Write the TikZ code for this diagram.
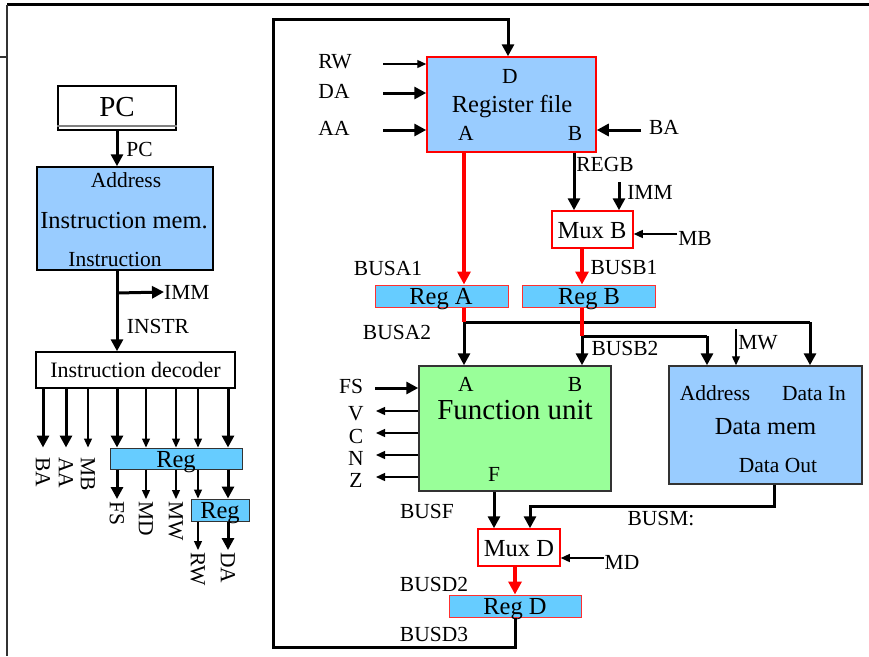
\documentclass[tikz,border=0pt]{standalone}
\usepackage{fontspec}
\setmainfont{Liberation Serif}
\usetikzlibrary{arrows.meta}
\definecolor{memblue}{HTML}{99CCFF}
\definecolor{regblue}{HTML}{66CCFF}
\definecolor{fugreen}{HTML}{99FF99}
\definecolor{regedge}{HTML}{FF3030}
\definecolor{gedge}{HTML}{333333}
\begin{document}
\begin{tikzpicture}[x=1pt,y=-1pt,
  lbl/.style={font=\fontsize{21.5}{24}\selectfont, inner sep=0pt, text depth=0pt},
  btxt/.style={font=\fontsize{24.5}{28}\selectfont, inner sep=0pt, text depth=0pt},
  htxt/.style={font=\fontsize{29}{32}\selectfont, inner sep=0pt, text depth=0pt},
  vlbl/.style={lbl, rotate=-90, anchor=west, inner sep=2pt},
  blk/.style={draw=gedge, inner sep=0pt, line width=1.5pt},
  redbox/.style={draw=red, inner sep=0pt, line width=1.5pt},
  regbox/.style={draw=regedge, fill=regblue, inner sep=0pt, line width=1pt},
  dregbox/.style={draw=gedge, fill=regblue, inner sep=0pt, line width=1pt},
  thk/.style={line width=3pt, -{Triangle[length=12pt,width=12pt]}},
  thkl/.style={line width=3pt},
  thn/.style={line width=1.3pt, -{Triangle[length=9pt,width=8pt]}},
  redarr/.style={line width=3.5pt, red, -{Triangle[length=13pt,width=13pt]}},
  redl/.style={line width=3.5pt, red},
  frame/.style={line width=2pt, black!80}
]
\useasboundingbox (0,0) rectangle (869,656);

% frame lines
\coordinate (fTL) at (7,4.5);
\coordinate (fTR) at (869,4.5);
\coordinate (fBL) at (7,656);
\coordinate (fS1) at (0,57);
\coordinate (fS2) at (7,57);
\draw[line width=3pt] (fTL) -- (fTR);
\draw[frame] (fTL) -- (fBL);
\draw[frame] (fS1) -- (fS2);

% ---------------- left part ----------------
\node[blk, draw=black, fill=white, minimum width=118pt, minimum height=44pt] (pcbox) at (117,108) {};
\draw[gray, line width=2pt] ([yshift=5pt]pcbox.south west) -- ([yshift=5pt]pcbox.south east);
\node[htxt] (tPC) at (117,107) {PC};

\node[blk, draw=black, fill=memblue, minimum width=176pt, minimum height=103pt] (imem) at (125,218.5) {};
\node[lbl] (tAddr1) at (126,180) {Address};
\node[btxt] (tImem) at (124,220) {Instruction mem.};
\node[lbl] (tInstr) at (115,259) {Instruction};

\node[lbl] (lPC) at (139.5,149) {PC};
\draw[thk] (pcbox.south) -- (pcbox.south |- imem.north);

\node[blk, draw=black, fill=white, minimum width=199pt, minimum height=36pt] (dec) at (135.5,370) {};
\node[lbl, font=\fontsize{22}{24}\selectfont] (tDec) at (135.5,370) {Instruction decoder};

\coordinate (ibus) at (117,293);
\node[lbl, anchor=west] (lIMM1) at (164,292) {IMM};
\node[lbl] (lINSTR) at (158,326) {INSTR};
\draw[thk] (imem.south -| ibus) -- (ibus |- dec.north);
\draw[thk] (ibus) -- (lIMM1.west);

\node[dregbox, minimum width=132pt, minimum height=21pt] (reg1) at (176,458.5) {};
\node[btxt] (tReg1) at (176,459) {Reg};
\node[dregbox, minimum width=58pt, minimum height=22pt] (reg2) at (220,510) {};
\node[btxt] (tReg2) at (220,510) {Reg};

\node[vlbl] (lBA) at (43,455) {BA};
\node[vlbl] (lAA) at (66,455) {AA};
\node[vlbl] (lMB) at (88,455) {MB};
\node[vlbl] (lFS) at (117,499) {FS};
\node[vlbl] (lMD) at (146,499) {MD};
\node[vlbl] (lMW) at (176,499) {MW};
\node[vlbl] (lRW) at (198,550) {RW};
\node[vlbl] (lDA) at (228,550) {DA};

\draw[thk] (dec.south -| lBA.west) -- (lBA.west |- reg1.north);
\draw[thk] (dec.south -| lAA.west) -- (lAA.west |- reg1.north);
\draw[thn] (dec.south -| lMB.west) -- (lMB.west |- reg1.north);
\draw[thk] (dec.south -| lFS.west) -- (lFS.west |- reg1.north);
\draw[thn] (dec.south -| lMD.west) -- (lMD.west |- reg1.north);
\draw[thn] (dec.south -| lMW.west) -- (lMW.west |- reg1.north);
\draw[thn] (dec.south -| lRW.west) -- (lRW.west |- reg1.north);
\draw[thk] (dec.south -| lDA.west) -- (lDA.west |- reg1.north);

\draw[thk] (reg1.south -| lFS.west) -- (lFS.west);
\draw[thn] (reg1.south -| lMD.west) -- (lMD.west);
\draw[thn] (reg1.south -| lMW.west) -- (lMW.west);
\draw[thn] (reg1.south -| lRW.west) -- (lRW.west |- reg2.north);
\draw[thk] (reg1.south -| lDA.west) -- (lDA.west |- reg2.north);
\draw[thn] (reg2.south -| lRW.west) -- (lRW.west);
\draw[thk] (reg2.south -| lDA.west) -- (lDA.west);

% ---------------- right part ----------------
\node[redbox, fill=memblue, minimum width=169pt, minimum height=95pt] (regfile) at (511.5,104.5) {};
\node[lbl] (tRFD) at (510,76) {D};
\node[btxt] (tRF) at (512,104) {Register file};
\node[lbl] (tRFA) at (466,133) {A};
\node[lbl] (tRFB) at (575,133) {B};

\node[redbox, fill=white, minimum width=81pt, minimum height=37pt] (muxb) at (592.5,229.5) {};
\node[btxt] (tMuxB) at (592,230) {Mux B};
\node[regbox, minimum width=133pt, minimum height=22pt] (rega) at (441.5,296) {};
\node[btxt] (tRegA) at (441,296) {Reg A};
\node[regbox, minimum width=133pt, minimum height=22pt] (regb) at (588.5,296) {};
\node[btxt] (tRegB) at (589,296) {Reg B};

\node[blk, fill=fugreen, minimum width=192pt, minimum height=125pt] (fu) at (515,428.5) {};
\node[lbl] (tFUA) at (466,384) {A};
\node[lbl] (tFUB) at (575,384) {B};
\node[htxt] (tFU) at (515,410) {Function unit};
\node[lbl] (tFUF) at (494,474) {F};

\node[blk, fill=memblue, minimum width=193pt, minimum height=118pt] (dmem) at (765.5,425) {};
\node[lbl] (tDAddr) at (715,393) {Address};
\node[lbl] (tDIn) at (814,393) {Data In};
\node[btxt] (tDmem) at (765.5,426) {Data mem};
\node[lbl] (tDOut) at (778,465) {Data Out};

\node[redbox, fill=white, minimum width=82pt, minimum height=37pt] (muxd) at (519,547.5) {};
\node[btxt] (tMuxD) at (519,548) {Mux D};
\node[regbox, minimum width=132pt, minimum height=22pt] (regd) at (515,606) {};
\node[btxt] (tRegD) at (515,606) {Reg D};

% labels
\node[lbl] (lRW2) at (335,61) {RW};
\node[lbl] (lDA2) at (334,91) {DA};
\node[lbl] (lAA2) at (334,128) {AA};
\node[lbl] (lBA2) at (664,127) {BA};
\node[lbl] (lREGB) at (605,164) {REGB};
\node[lbl] (lIMM2) at (650,192) {IMM};
\node[lbl] (lMB2) at (695,238) {MB};
\node[lbl] (lBUSA1) at (388,268) {BUSA1};
\node[lbl] (lBUSB1) at (624,267) {BUSB1};
\node[lbl] (lBUSA2) at (397,332) {BUSA2};
\node[lbl] (lBUSB2) at (625,348) {BUSB2};
\node[lbl] (lMW2) at (758,342) {MW};
\node[lbl] (lFS2) at (351,386) {FS};
\node[lbl] (lV) at (356,413) {V};
\node[lbl] (lC) at (356,436) {C};
\node[lbl] (lN) at (356,458) {N};
\node[lbl] (lZ) at (356,480) {Z};
\node[lbl] (lBUSF) at (427,511) {BUSF};
\node[lbl] (lBUSM) at (661,518) {BUSM:};
\node[lbl] (lMD2) at (622,562) {MD};
\node[lbl] (lBUSD2) at (434,584) {BUSD2};
\node[lbl] (lBUSD3) at (434,634) {BUSD3};

% coordinates
\coordinate (rwS) at (383,64);
\coordinate (daS) at (383,93);
\coordinate (aaS) at (383,130);
\coordinate (baS) at (641,130);
\coordinate (rfAx) at (464,152);
\coordinate (rfBx) at (574,152);
\coordinate (immS) at (619,182);
\coordinate (mbS) at (677,234);
\coordinate (busA) at (464,322);
\coordinate (busAR) at (810,322);
\coordinate (busB) at (582,336);
\coordinate (busBR) at (707,336);
\coordinate (mwS) at (736,329);
\coordinate (fsS) at (375,388);
\coordinate (vE) at (376,411);
\coordinate (cE) at (376,433);
\coordinate (nE) at (376,455);
\coordinate (zE) at (376,477);
\coordinate (doX) at (774,506);
\coordinate (busM) at (530,506);
\coordinate (mdS) at (604,558);
\coordinate (loopL) at (273,647);
\coordinate (loopT) at (273,19);
\coordinate (loopD) at (508,19);

% register file inputs
\draw[thn] (rwS) -- (rwS -| regfile.west);
\draw[thk] (daS) -- (daS -| regfile.west);
\draw[thk] (aaS) -- (aaS -| regfile.west);
\draw[thk] (baS) -- (baS -| regfile.east);

% feedback loop
\draw[thk] (regd.south) |- (loopL) -- (loopT) -- (loopD) -- (loopD |- regfile.north);

% B path
\draw[thk] (regfile.south -| rfBx) -- (rfBx |- muxb.north);
\draw[thk] (immS) -- (immS |- muxb.north);
\draw[thn] (mbS) -- (mbS -| muxb.east);

% buses to FU and data mem
\draw[thk] (busA) -- (busA |- fu.north);
\draw[thkl] (busA) -- (busAR);
\draw[thk] (busAR) -- (busAR |- dmem.north);
\draw[thkl] (busB) -- (busBR);
\draw[thk] (busBR) -- (busBR |- dmem.north);
\draw[thk] (busB) -- (busB |- fu.north);
\draw[thn] (mwS) -- (mwS |- dmem.north);

% red paths
\draw[redarr] (regfile.south -| rfAx) -- (rfAx |- rega.north);
\draw[redl] (rega.south -| busA) -- (busA);
\draw[redarr] (muxb.south -| busB) -- (busB |- regb.north);
\draw[redl] (regb.south -| busB) -- (busB);

% FU side signals
\draw[thk] (fsS) -- (fsS -| fu.west);
\draw[thn] (vE -| fu.west) -- (vE);
\draw[thn] (cE -| fu.west) -- (cE);
\draw[thn] (nE -| fu.west) -- (nE);
\draw[thn] (zE -| fu.west) -- (zE);

% to Mux D
\draw[thk] (fu.south -| tFUF) -- (tFUF |- muxd.north);
\draw[thk] (dmem.south -| doX) -- (doX) -- (busM) -- (busM |- muxd.north);
\draw[thn] (mdS) -- (mdS -| muxd.east);
\draw[redarr] (muxd.south -| regd.north) -- (regd.north);

\end{tikzpicture}
\end{document}
